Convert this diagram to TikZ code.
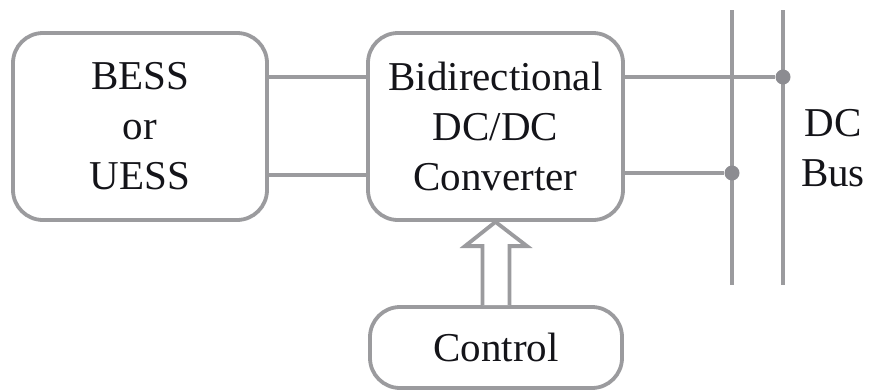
\documentclass[tikz,border=0pt]{standalone}
\usepackage{fontspec}
\setmainfont{Liberation Serif}
\usetikzlibrary{calc}
\definecolor{wire}{RGB}{155,155,158}
\definecolor{joint}{RGB}{140,140,145}
\definecolor{ink}{RGB}{20,20,25}
\begin{document}
\begin{tikzpicture}[x=1pt,y=-1pt,
  blockbox/.style={draw=wire,line width=3.8pt,rounded corners=30pt,fill=white,
    align=center,text=ink,inner sep=0pt,
    font=\fontsize{41}{50}\selectfont},
  wireline/.style={draw=wire,line width=3.8pt},
  joint/.style={circle,fill=joint,inner sep=0pt,minimum size=15pt}]
\useasboundingbox (0,0) rectangle (869,391);

% blocks
\node[blockbox,minimum width=254pt,minimum height=187pt] (bess) at (140,126.5)
  {BESS\\or\\UESS};
\node[blockbox,minimum width=255pt,minimum height=187pt] (conv) at (495.5,126.5)
  {Bidirectional\\DC/DC\\Converter};
\node[blockbox,minimum width=252pt,minimum height=81pt] (ctrl) at (496,347.5)
  {Control};

% DC bus rails
\coordinate (negtop) at (732,10);
\coordinate (negbot) at (732,285);
\coordinate (postop) at (783,10);
\coordinate (posbot) at (783,285);
\draw[wireline] (negtop) -- (negbot);
\draw[wireline] (postop) -- (posbot);

\node[joint] (jpos) at (783,77) {};
\node[joint] (jneg) at (732,173) {};

% links between blocks
\draw[wireline] (bess.east |- 0,77) -- (conv.west |- 0,77);
\draw[wireline] (bess.east |- 0,175) -- (conv.west |- 0,175);
\draw[wireline] (conv.east |- jpos) -- (jpos);
\draw[wireline] (conv.east |- jneg) -- (jneg);

\node[align=center,text=ink,inner sep=0pt,
  font=\fontsize{41}{50}\selectfont] (bus) at (833,148) {DC\\Bus};

% hollow control arrow
\draw[wire,line width=3.8pt,line join=miter,fill=white]
  ($(ctrl.north)+(-13.5,0)$) -- ($(ctrl.north)+(-13.5,-59)$)
  -- ($(ctrl.north)+(-31,-59)$) -- (conv.south)
  -- ($(ctrl.north)+(31,-59)$) -- ($(ctrl.north)+(13.5,-59)$)
  -- ($(ctrl.north)+(13.5,0)$);
\end{tikzpicture}
\end{document}
